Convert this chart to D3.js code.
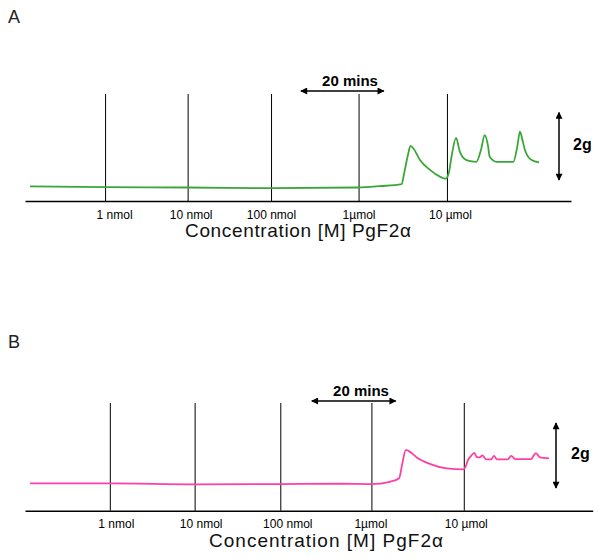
<!DOCTYPE html>
<html lang="en">
<head>
    <meta charset="UTF-8">
    <title>PgF2α concentration response</title>
    <style>
        body {
            margin: 0;
            padding: 0;
            background: #fff;
            font-family: Arial, 'Liberation Sans', sans-serif;
        }
        svg { display: block; }
    </style>
</head>
<body>
    <svg width="600" height="559"></svg>

    <script src="https://d3js.org/d3.v7.min.js"></script>
    <script>
        // dose labels shared by both panels
        const doseLabels = ['1 nmol', '10 nmol', '100 nmol', '1µmol', '10 µmol'];

        // time (min) when each dose was added
        const doseTimesA = [19.3, 39.2, 59.3, 80.4, 101.7];
        const doseTimesB = [20.2, 40.4, 60.8, 82.5, 104.5];

        // trace A: time (min) and tension (g above the time axis)
        const traceTimeA = [1.2, 19.3, 39.0, 59.3, 80.2, 85.5, 90.8, 91.3, 92.3, 92.9, 93.7, 95.2, 97.6, 100.0, 101.4,
            102.2, 102.8, 103.9, 104.8, 106.4, 108.8, 109.9, 110.8, 111.6, 112.0, 113.7, 117.7, 118.6, 119.3, 120.0,
            120.5, 122.1, 123.9];
        const traceTensionA = [0.43, 0.41, 0.40, 0.38, 0.40, 0.44, 0.50, 0.77, 1.36, 1.63, 1.54, 1.21, 0.92, 0.72, 0.66,
            0.86, 1.31, 1.87, 1.46, 1.21, 1.16, 1.51, 1.95, 1.63, 1.31, 1.16, 1.16, 1.57, 2.05, 1.75,
            1.51, 1.21, 1.14];

        // trace B
        const traceTimeB = [1.2, 20.2, 40.5, 60.7, 75.0, 82.5, 86.9, 89.1, 89.8, 90.7, 91.7, 93.3, 96.4, 100.4, 104.5,
            105.0, 105.5, 106.2, 107.0, 107.6, 108.3, 108.9, 109.9, 111.0, 111.7, 112.4, 115.0, 115.8, 116.7, 120.6,
            121.2, 121.7, 122.6, 124.8];
        const traceTensionB = [0.84, 0.84, 0.81, 0.82, 0.83, 0.82, 0.89, 1.00, 1.41, 1.87, 1.81, 1.64, 1.44, 1.30, 1.27,
            1.38, 1.56, 1.68, 1.78, 1.65, 1.64, 1.70, 1.58, 1.58, 1.69, 1.58, 1.58, 1.69, 1.59, 1.59,
            1.71, 1.77, 1.64, 1.61];

        // time bar and tension bar
        const timeBarMinutes = 20;
        const tensionBarGrams = 2;

        const svg = d3.select('svg');

        svg.append('defs').append('marker')
            .attr('id', 'head')
            .attr('viewBox', '0 0 10 10')
            .attr('refX', 9).attr('refY', 5)
            .attr('markerWidth', 8).attr('markerHeight', 7)
            .attr('markerUnits', 'userSpaceOnUse')
            .attr('orient', 'auto-start-reverse')
            .append('path')
            .attr('d', 'M0,0L10,5L0,10Z')
            .attr('fill', '#000');

        const panels = [
            {
                letter: 'A', letterY: 23, color: '#3aa63a',
                doses: doseTimesA, times: traceTimeA, tension: traceTensionA,
                tEnd: 131.6, xRange: [25, 571], axisY: 201, topY: 94, gPx: 33.8,
                barStart: 66.5, barY: 91, barLabelX: 350, barLabelY: 86,
                scaleX: 559, scaleFrom: 0.62, gLabelX: 573, gLabelY: 150,
                titleX: 298, titleY: 237, titleLen: 226, nudge: [9, 3, 0, 0, 3]
            },
            {
                letter: 'B', letterY: 348, color: '#ff3fa3',
                doses: doseTimesB, times: traceTimeB, tension: traceTensionB,
                tEnd: 135.2, xRange: [25, 592.7], axisY: 510.7, topY: 403, gPx: 32.5,
                barStart: 68.3, barY: 401, barLabelX: 361, barLabelY: 396,
                scaleX: 556, scaleFrom: 0.70, gLabelX: 571, gLabelY: 459,
                titleX: 326, titleY: 547, titleLen: 234, nudge: [6, 6, 7, -1, 2]
            }
        ];

        panels.forEach(p => {
            const x = d3.scaleLinear().domain([0, p.tEnd]).range(p.xRange);
            const y = d3.scaleLinear().domain([0, tensionBarGrams])
                .range([p.axisY, p.axisY - tensionBarGrams * p.gPx]);

            const g = svg.append('g');

            g.append('text')
                .attr('x', 8).attr('y', p.letterY)
                .attr('font-size', 18)
                .attr('fill', '#222')
                .text(p.letter);

            // time axis, dose lines drawn as upward ticks
            const axis = d3.axisBottom(x)
                .tickValues(p.doses)
                .tickFormat((d, i) => doseLabels[i])
                .tickSizeInner(-(p.axisY - p.topY))
                .tickSizeOuter(0)
                .tickPadding(9);

            const ax = g.append('g')
                .attr('transform', `translate(0,${p.axisY})`)
                .call(axis);
            ax.select('.domain').attr('stroke', '#000').attr('stroke-width', 1.5);
            ax.selectAll('.tick line').attr('stroke', '#000').attr('stroke-width', 1);
            ax.selectAll('.tick text')
                .attr('font-size', 12)
                .attr('font-family', 'Arial, Liberation Sans, sans-serif')
                .attr('fill', '#000')
                .attr('dx', (d, i) => p.nudge[i]);

            g.append('text')
                .attr('x', p.titleX).attr('y', p.titleY)
                .attr('text-anchor', 'middle')
                .attr('font-size', 19)
                .attr('textLength', p.titleLen)
                .attr('lengthAdjust', 'spacing')
                .attr('fill', '#111')
                .text('Concentration [M] PgF2α');

            // trace
            const pts = p.times.map((t, i) => [t, p.tension[i]]);
            g.append('path')
                .datum(pts)
                .attr('fill', 'none')
                .attr('stroke', p.color)
                .attr('stroke-width', 1.8)
                .attr('d', d3.line()
                    .x(d => x(d[0]))
                    .y(d => y(d[1]))
                    .curve(d3.curveMonotoneX));

            // 20 mins bar
            g.append('line')
                .attr('x1', x(p.barStart)).attr('x2', x(p.barStart + timeBarMinutes))
                .attr('y1', p.barY).attr('y2', p.barY)
                .attr('stroke', '#000').attr('stroke-width', 1.5)
                .attr('marker-start', 'url(#head)')
                .attr('marker-end', 'url(#head)');
            g.append('text')
                .attr('x', p.barLabelX).attr('y', p.barLabelY)
                .attr('text-anchor', 'middle')
                .attr('font-size', 15).attr('font-weight', 'bold')
                .text(timeBarMinutes + ' mins');

            // 2g bar
            g.append('line')
                .attr('x1', p.scaleX).attr('x2', p.scaleX)
                .attr('y1', y(p.scaleFrom)).attr('y2', y(p.scaleFrom + tensionBarGrams))
                .attr('stroke', '#000').attr('stroke-width', 1.5)
                .attr('marker-start', 'url(#head)')
                .attr('marker-end', 'url(#head)');
            g.append('text')
                .attr('x', p.gLabelX).attr('y', p.gLabelY)
                .attr('font-size', 16).attr('font-weight', 'bold')
                .text(tensionBarGrams + 'g');
        });
    </script>
</body>
</html>
